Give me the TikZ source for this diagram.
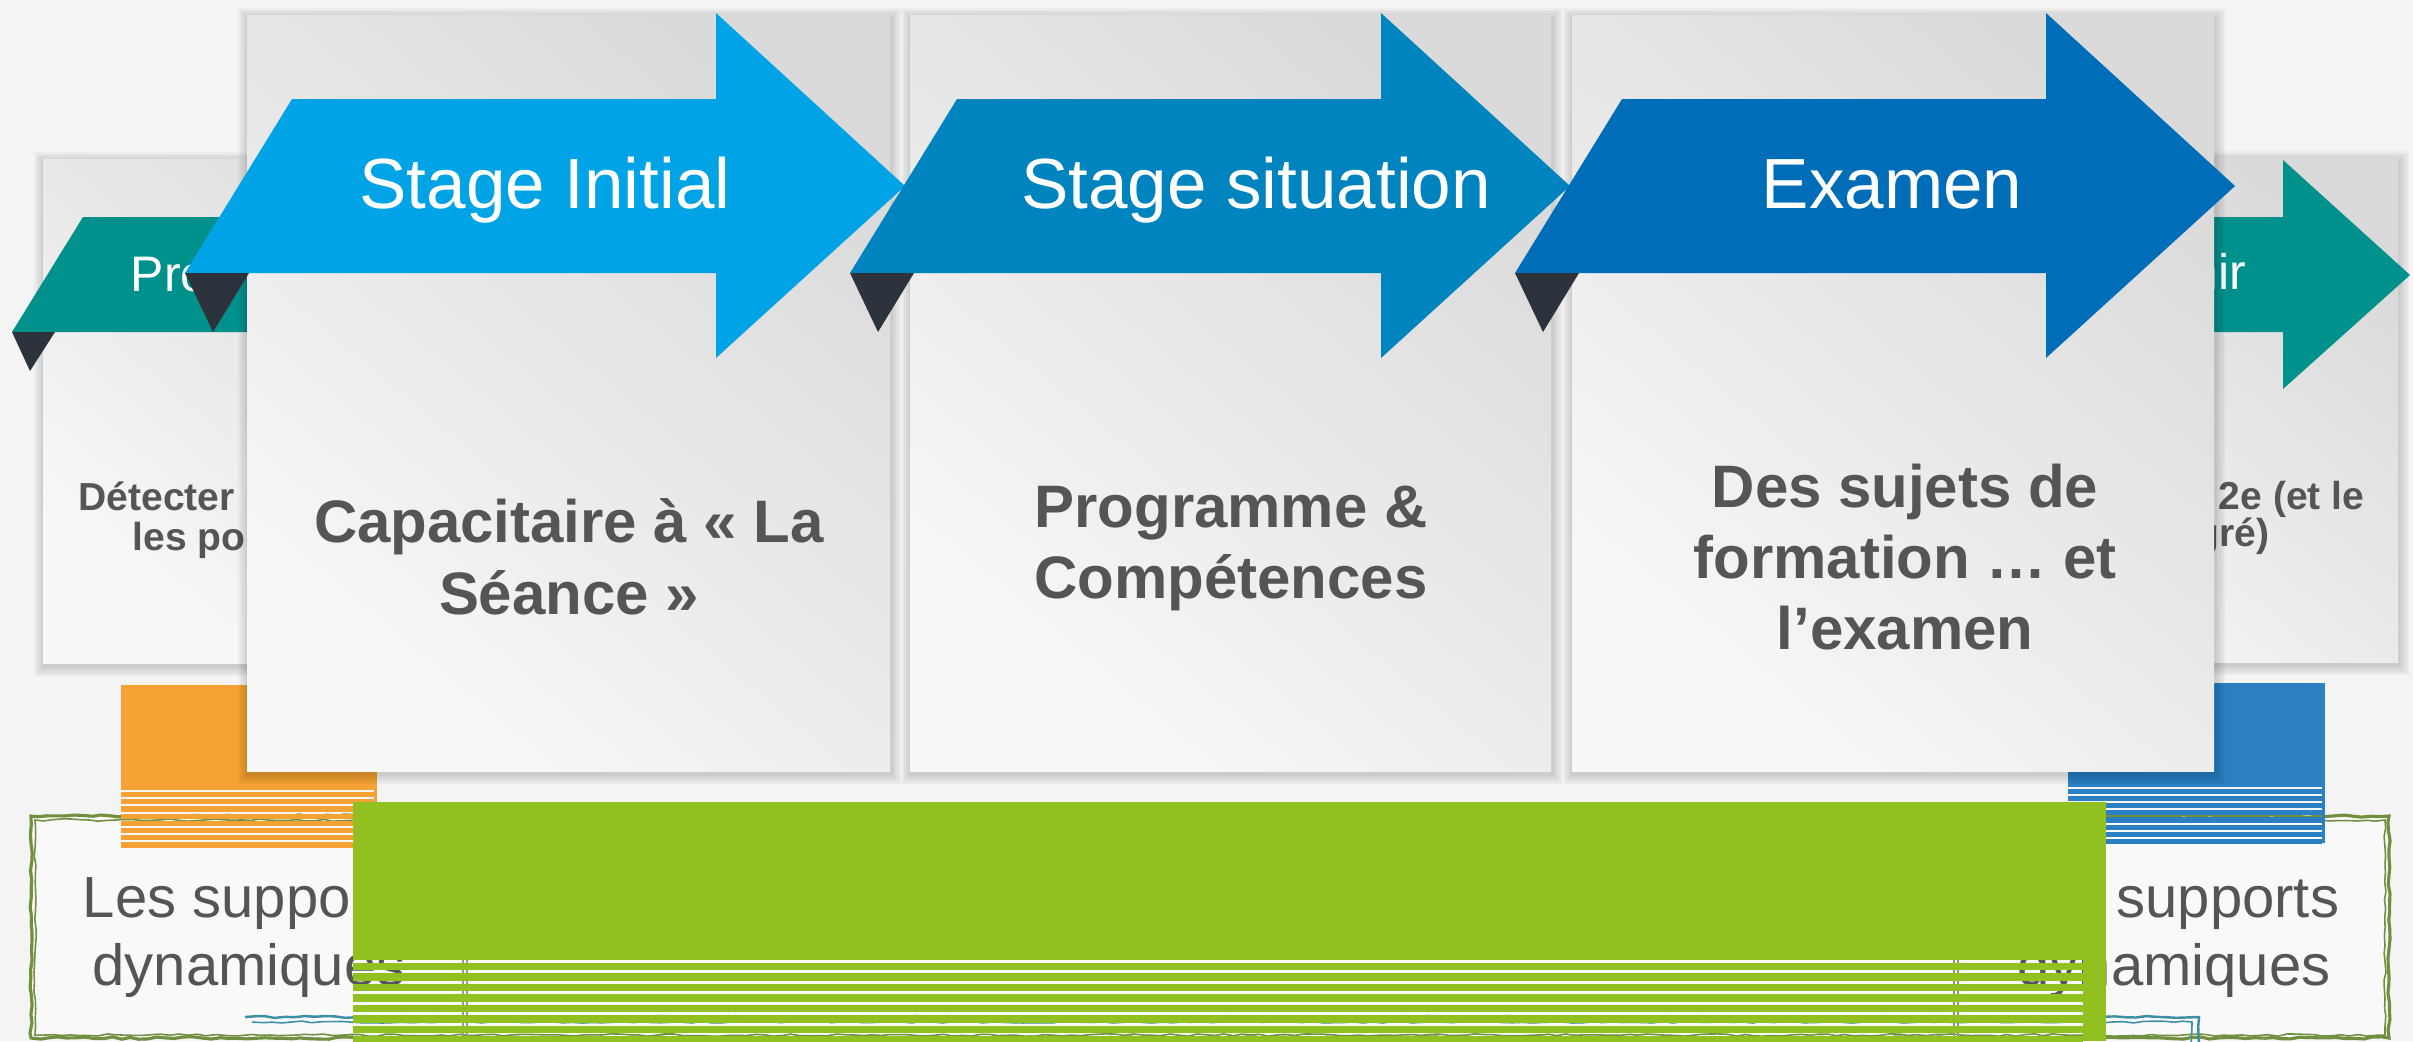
\documentclass[tikz,border=0pt]{standalone}
\usepackage{fontspec}
\setmainfont{Liberation Sans}
\usetikzlibrary{decorations.pathmorphing}
\definecolor{bgc}{HTML}{F4F4F4}
\definecolor{framefill}{HTML}{F9F9F9}
\definecolor{cardlight}{HTML}{F8F8F8}
\definecolor{carddark}{HTML}{DADADA}
\definecolor{blueA}{HTML}{00A4E6}
\definecolor{blueB}{HTML}{0084C0}
\definecolor{blueC}{HTML}{006DB8}
\definecolor{tealc}{HTML}{00918D}
\definecolor{darktri}{HTML}{2C333D}
\definecolor{orangec}{HTML}{F4A233}
\definecolor{greenc}{HTML}{91C121}
\definecolor{boxblue}{HTML}{2A80C3}
\definecolor{olive}{HTML}{71903F}
\definecolor{tealsketch}{HTML}{3D8FA6}
\definecolor{textgray}{HTML}{555555}
\definecolor{vlinec}{HTML}{8E9E72}
\newcommand\mycardshadow[4]{%
  \foreach \s in {1,...,6}{%
    \fill[black,opacity=0.028] ({#1-\s*1.7+1},{#2-\s*1.7+3}) rectangle ({#3+\s*1.7+1},{#4+\s*1.7+3});}}
\tikzset{
  cardshade/.style={top color=carddark, bottom color=cardlight, shading angle=-40},
  olivesk/.style={draw=olive, line width=0.9pt, decorate,
    decoration={random steps, segment length=0.09cm, amplitude=0.012cm}},
  tealsk/.style={draw=tealsketch, line width=0.7pt, decorate,
    decoration={random steps, segment length=0.1cm, amplitude=0.01cm}},
  vline/.style={draw=vlinec, line width=0.4pt},
  arrowtxt/.style={text=white, inner sep=0pt, anchor=base, font=\fontsize{20.2pt}{24pt}\selectfont},
  teltxt/.style={text=white, inner sep=0pt, font=\fontsize{14.2pt}{17pt}\selectfont},
  cardtxt/.style={text=textgray, inner sep=0pt, anchor=base, font=\fontsize{17.05pt}{20pt}\selectfont\bfseries},
  backtxt/.style={text=textgray, inner sep=0pt, font=\fontsize{11.1pt}{13pt}\selectfont\bfseries},
  bottxt/.style={text=textgray, inner sep=0pt, anchor=base, font=\fontsize{16.5pt}{19pt}\selectfont},
}
\begin{document}
\begin{tikzpicture}[x=0.01cm,y=-0.01cm]
\pgfmathsetseed{7}
\useasboundingbox (0,0) rectangle (2413,1041);
\clip (0,0) rectangle (2413,1041);
\fill[bgc] (0,0) rectangle (2413,1041);

% ---- bottom frame (behind everything else) ----
\fill[framefill] (31,816) rectangle (2389,1038);
\draw[olivesk] (31,816) rectangle (2389,1038);
\draw[olivesk, line width=0.45pt] (35,820) rectangle (2385,1035);
\draw[vline] (463,816) -- (463,1041);
\draw[vline] (467,816) -- (467,1041);
\draw[vline] (1954,816) -- (1954,1041);
\draw[vline] (1958,816) -- (1958,1041);
\draw[tealsk] (245,1017) -- (2199,1017) -- (2199,1060);
\draw[tealsk, line width=0.45pt] (252,1022) -- (2192,1022) -- (2192,1060);

\node[bottxt] (l1) at (249,917) {Les supports};
\node[bottxt] (l2) at (249,985) {dynamiques};
\node[bottxt] (r1) at (2173,917) {Les supports};
\node[bottxt] (r2) at (2174,985) {dynamiques};

% ---- orange and blue boxes ----
\fill[orangec] (121,685) rectangle (377,790);
\fill[orangec] (374,685) rectangle (377,845);
\foreach \i in {0,...,7}{\fill[orangec] (121,{792+7.2*\i}) rectangle (374,{797.2+7.2*\i});}
\fill[boxblue] (2068,683) rectangle (2325,787);
\fill[boxblue] (2322,683) rectangle (2325,843);
\foreach \i in {0,...,7}{\fill[boxblue] (2068,{789+7.1*\i}) rectangle (2322,{794.1+7.1*\i});}

% ---- back cards ----
\mycardshadow{43}{159}{600}{663}
\shade[cardshade] (43,159) rectangle (600,663);
\mycardshadow{1900}{158}{2398}{662}
\shade[cardshade] (1900,158) rectangle (2398,662);
\node[backtxt, anchor=base west] (bl1) at (78,510) {Détecter};
\node[backtxt, anchor=base west] (bl2) at (132,550) {les po};
\node[backtxt, anchor=base east] (br1) at (2365,509) {2e (et le};
\node[backtxt, anchor=base east] (br2) at (2270,546) {gré)};

% ---- teal ribbons ----
\fill[tealc] (12,332) -- (83,217) -- (360,217) -- (360,160) -- (487,275) -- (360,389) -- (360,332) -- cycle;
\fill[darktri] (12,332) -- (55,332) -- (30,371) -- cycle;
\node[teltxt, anchor=base west] (tl) at (130,291) {Pro};
\fill[tealc] (1935,332) -- (2006,217) -- (2283,217) -- (2283,160) -- (2410,275) -- (2283,389) -- (2283,332) -- cycle;
\node[teltxt, anchor=base east] (tr) at (2247,289) {nir};

% ---- front cards ----
\foreach \a/\b in {247/890, 910/1551, 1572/2214}{
  \mycardshadow{\a}{15}{\b}{771}
  \shade[cardshade] (\a,15) rectangle (\b,771);
}
\node[cardtxt] (c1a) at (569,542) {Capacitaire à « La};
\node[cardtxt] (c1b) at (569,614) {Séance »};
\node[cardtxt] (c2a) at (1231,527) {Programme \&};
\node[cardtxt] (c2b) at (1231,598) {Compétences};
\node[cardtxt] (c3a) at (1905,507) {Des sujets de};
\node[cardtxt] (c3b) at (1905,578) {formation … et};
\node[cardtxt] (c3c) at (1905,649) {l’examen};

% ---- blue arrows ----
\foreach \x/\c in {185/blueA, 850/blueB, 1515/blueC}{
  \fill[\c] (\x,273) -- ({\x+107},99) -- ({\x+531},99) -- ({\x+531},13) -- ({\x+720},186)
     -- ({\x+531},358) -- ({\x+531},273) -- cycle;
  \fill[darktri] (\x,273) -- ({\x+64},273) -- ({\x+28},332) -- cycle;
}
\node[arrowtxt] (a1) at (545,208) {Stage Initial};
\node[arrowtxt] (a2) at (1256,208) {Stage situation};
\node[arrowtxt] (a3) at (1892,208) {Examen};

% ---- green block ----
\fill[greenc] (353,802) rectangle (2106,959.5);
\fill[greenc] (2083,802) rectangle (2106,1041);
\foreach \i in {0,...,7}{\fill[greenc] (353,{962.5+10.5*\i}) rectangle (2083,{970+10.5*\i});}
\end{tikzpicture}
\end{document}
